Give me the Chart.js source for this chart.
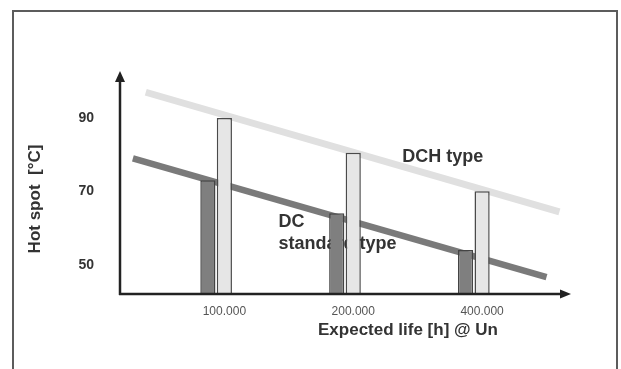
<!DOCTYPE html>
<html>
<head>
<meta charset="utf-8">
<script src="https://cdn.jsdelivr.net/npm/chart.js@4.4.1/dist/chart.umd.min.js"></script>
<style>
    body { margin: 0; background: #fff; }
    .wrap { position: relative; width: 621px; height: 369px; }
    .frame {
        position: absolute; left: 12px; top: 10px; width: 602px; height: 380px;
        border: 2px solid #5c5c5c; border-bottom: none; pointer-events: none;
    }
</style>
</head>
<body>
<div class="wrap">
    <canvas id="lifeChart"></canvas>
    <div class="frame"></div>
</div>
<script>
const lifeLabels = ['100.000', '200.000', '400.000'];
const dcStandard = [73, 64, 54];
const dchType = [90, 80.5, 70];
const yTicks = [50, 70, 90];

// trend lines, x given in category units (1 = 100.000 ...)
const dcTrendX = [0.29, 3.5];
const dcTrendY = [79, 46.6];
const dchTrendX = [0.39, 3.6];
const dchTrendY = [97, 64.4];

const font = '"Liberation Sans", Arial, sans-serif';

const toPoints = (xs, ys) => xs.map((x, i) => ({ x: x, y: ys[i] }));
const toBars = (vals) => vals.map((v, i) => ({ x: i + 1, y: v }));

const chartText = {
    id: 'chartText',
    beforeDatasetsDraw(chart) {
        const c = chart.ctx;
        const x = chart.scales.x, y = chart.scales.y;
        c.save();
        c.fillStyle = '#333';
        c.font = 'bold 18px ' + font;
        c.textBaseline = 'middle';
        c.textAlign = 'left';
        c.fillText('DCH type', x.getPixelForValue(2.38), y.getPixelForValue(79.4));
        c.fillText('DC', x.getPixelForValue(1.42), y.getPixelForValue(61.6));
        c.fillText('standard type', x.getPixelForValue(1.42), y.getPixelForValue(55.6));
        c.restore();
    },
    afterDatasetsDraw(chart) {
        const c = chart.ctx;
        const a = chart.chartArea;
        c.save();
        c.strokeStyle = '#222';
        c.fillStyle = '#222';
        c.lineWidth = 2.5;
        // y axis with arrow
        c.beginPath();
        c.moveTo(a.left, a.bottom + 1);
        c.lineTo(a.left, a.top - 26);
        c.stroke();
        c.beginPath();
        c.moveTo(a.left, a.top - 33);
        c.lineTo(a.left - 5, a.top - 22);
        c.lineTo(a.left + 5, a.top - 22);
        c.closePath();
        c.fill();
        // x axis with arrow
        c.beginPath();
        c.moveTo(a.left - 1, a.bottom);
        c.lineTo(a.right - 6, a.bottom);
        c.stroke();
        c.beginPath();
        c.moveTo(a.right, a.bottom);
        c.lineTo(a.right - 11, a.bottom - 4.5);
        c.lineTo(a.right - 11, a.bottom + 4.5);
        c.closePath();
        c.fill();
        // x axis title
        c.fillStyle = '#333';
        c.font = 'bold 17px ' + font;
        c.textAlign = 'left';
        c.textBaseline = 'middle';
        c.fillText('Expected life [h] @ Un', 318, a.bottom + 36);
        c.restore();
    }
};

const ctx = document.getElementById('lifeChart');
new Chart(ctx, {
    type: 'bar',
    data: {
        datasets: [
            {
                label: 'DC standard type',
                data: toBars(dcStandard),
                backgroundColor: '#7f7f7f',
                borderColor: '#444',
                borderWidth: 1.5,
                order: 1
            },
            {
                label: 'DCH type',
                data: toBars(dchType),
                backgroundColor: '#e6e6e6',
                borderColor: '#4a4a4a',
                borderWidth: 1.5,
                order: 1
            },
            {
                // empty slot so the DCH bars sit on the ticks
                label: '',
                data: lifeLabels.map((l, i) => ({ x: i + 1, y: null })),
                backgroundColor: 'rgba(0,0,0,0)',
                order: 1
            },
            {
                type: 'line',
                label: 'DC trend',
                data: toPoints(dcTrendX, dcTrendY),
                borderColor: '#7a7a7a',
                borderWidth: 6.5,
                pointRadius: 0,
                borderCapStyle: 'butt',
                clip: false,
                order: 2
            },
            {
                type: 'line',
                label: 'DCH trend',
                data: toPoints(dchTrendX, dchTrendY),
                borderColor: '#e0e0e0',
                borderWidth: 7,
                pointRadius: 0,
                borderCapStyle: 'butt',
                clip: false,
                order: 2
            }
        ]
    },
    options: {
        responsive: true,
        maintainAspectRatio: false,
        animation: false,
        categoryPercentage: 0.384,
        barPercentage: 0.92,
        layout: {
            padding: { left: 0, top: 104, right: 50, bottom: 0 }
        },
        plugins: {
            legend: { display: false },
            tooltip: { enabled: false }
        },
        scales: {
            x: {
                type: 'linear',
                min: 0.19,
                max: 3.69,
                offset: false,
                grid: { display: false, drawTicks: false },
                border: { display: false },
                afterBuildTicks: (scale) => {
                    scale.ticks = lifeLabels.map((l, i) => ({ value: i + 1 }));
                },
                afterFit: (scale) => { scale.height = 75; },
                ticks: {
                    autoSkip: false,
                    maxRotation: 0,
                    padding: 10,
                    color: '#555',
                    font: { family: font, size: 12 },
                    callback: (v) => lifeLabels[v - 1]
                }
            },
            y: {
                min: 42,
                max: 93.8,
                grid: { display: false, drawTicks: false },
                border: { display: false },
                afterBuildTicks: (scale) => {
                    scale.ticks = yTicks.map(v => ({ value: v }));
                },
                afterFit: (scale) => { scale.width = 120; },
                ticks: {
                    padding: 26,
                    color: '#333',
                    font: { family: font, size: 14, weight: 'bold' }
                },
                title: {
                    display: true,
                    text: 'Hot spot  [°C]',
                    color: '#333',
                    font: { family: font, size: 17, weight: 'bold' },
                    padding: { top: 25, bottom: 0 }
                }
            }
        }
    },
    plugins: [chartText]
});
</script>
</body>
</html>
